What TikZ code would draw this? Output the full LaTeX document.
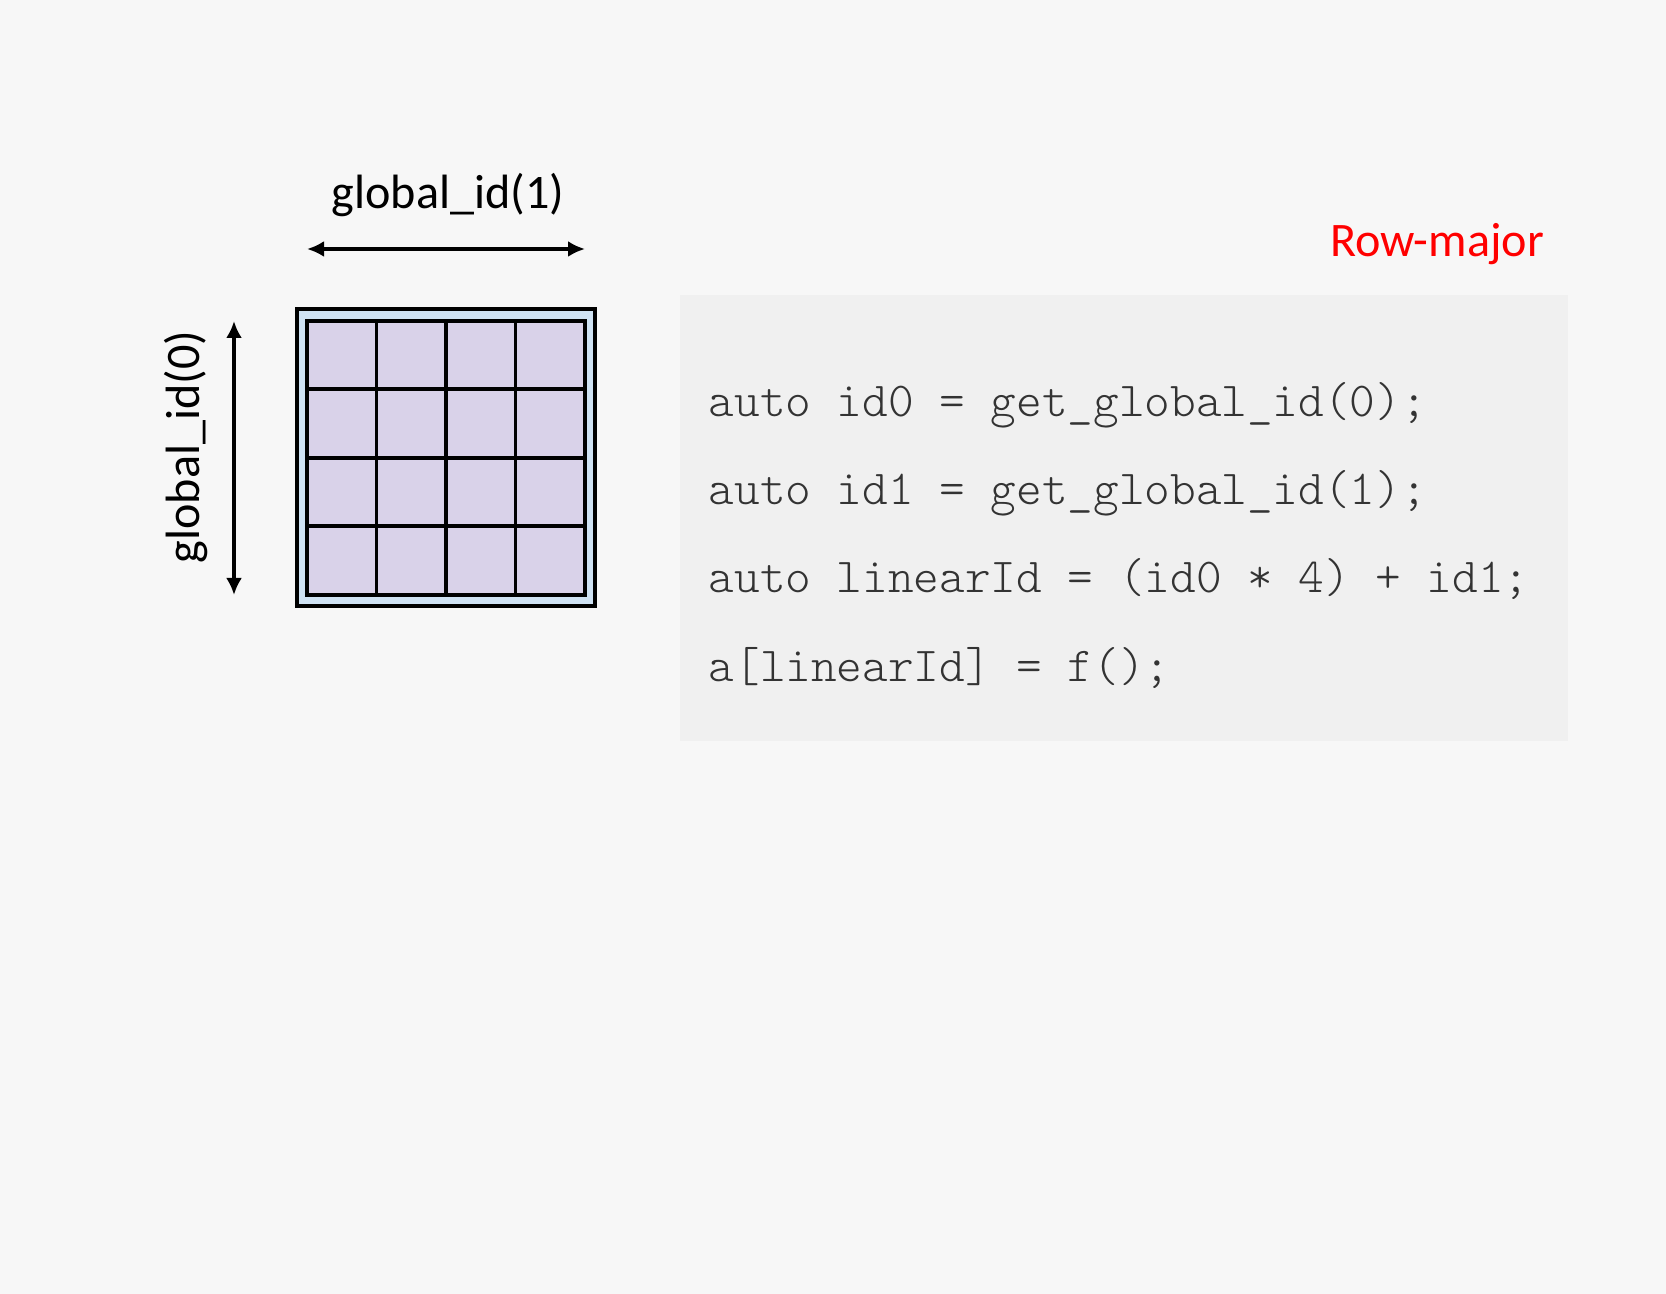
\documentclass[tikz,border=0pt]{standalone}
\usepackage{fontspec}
\setmainfont{Carlito}
\setmonofont{Latin Modern Mono Light}
\usetikzlibrary{arrows.meta}
\definecolor{pagebg}{HTML}{F7F7F7}
\definecolor{codebg}{HTML}{F0F0F0}
\definecolor{codefg}{HTML}{333333}
\definecolor{framebg}{HTML}{CFE2F3}
\definecolor{cellbg}{HTML}{D9D2E9}
\tikzset{
  cellbox/.style={draw, line width=1.1pt, fill=cellbg, minimum width=0.695cm, minimum height=0.684cm, inner sep=0pt},
  dimarrow/.style={{Latex[length=0.17cm,width=0.16cm]}-{Latex[length=0.17cm,width=0.16cm]}, line width=1.1pt},
  dimlabel/.style={font=\fontsize{13.7}{16}\selectfont, inner sep=0pt},
  codeline/.style={font=\ttfamily\fontsize{13.9}{16}\selectfont, text=codefg, anchor=base west, inner sep=0pt}
}
\begin{document}
\begin{tikzpicture}[x=1cm, y=-1cm]
  \fill[pagebg] (0,0) rectangle (16.66,12.94);
  \useasboundingbox (0,0) rectangle (16.66,12.94);

  % matrix of work-items
  \node[draw, line width=1.1pt, fill=framebg, minimum width=2.98cm, minimum height=2.97cm, inner sep=0pt] (frame) at (4.46,4.575) {};
  \foreach \r in {0,...,3}
    \foreach \c in {0,...,3}
      \node[cellbox] (cell\r\c) at (3.4175+0.695*\c, 3.552+0.684*\r) {};

  % dimensions
  \coordinate (colL) at (3.07,2.49);
  \coordinate (colR) at (5.85,2.49);
  \coordinate (rowT) at (2.34,3.21);
  \coordinate (rowB) at (2.34,5.95);
  \draw[dimarrow] (colL) -- (colR);
  \draw[dimarrow] (rowT) -- (rowB);
  \node[dimlabel] (colLabel) at (4.48,1.95) {global\_id(1)};
  \node[dimlabel, rotate=90] (rowLabel) at (1.86,4.47) {global\_id(0)};

  % code
  \node[dimlabel, text=red] (layout) at (14.37,2.44) {Row-major};
  \fill[codebg] (6.80,2.95) rectangle (15.68,7.41);
  \node[codeline] (line1) at (7.08,4.17) {auto id0 = get\_global\_id(0);};
  \node[codeline] (line2) at (7.08,5.05) {auto id1 = get\_global\_id(1);};
  \node[codeline] (line3) at (7.08,5.93) {auto linearId = (id0 * 4) + id1;};
  \node[codeline] (line4) at (7.08,6.81) {a[linearId] = f();};
\end{tikzpicture}
\end{document}
